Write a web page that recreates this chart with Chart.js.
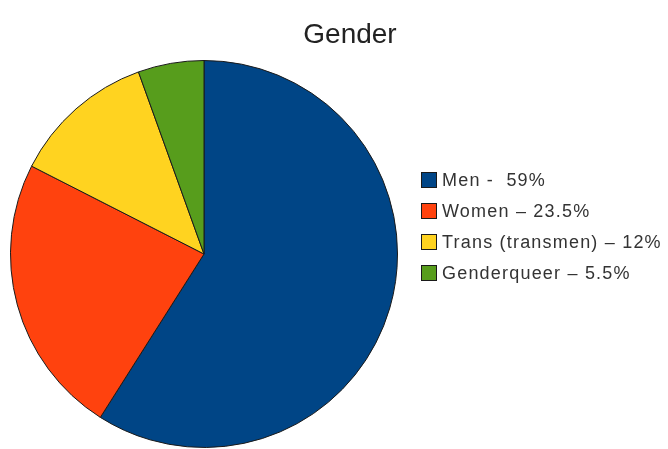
<!DOCTYPE html>
<html>
<head>
<meta charset="utf-8">
<script src="https://cdn.jsdelivr.net/npm/chart.js@4.4.0/dist/chart.umd.min.js"></script>
<style>
  html, body { margin: 0; padding: 0; background: #fff; overflow: hidden; }
  #wrap { position: relative; width: 668px; height: 449px; overflow: hidden; }
</style>
</head>
<body>
<div id="wrap">
  <canvas id="genderChart" width="668" height="470"></canvas>
</div>
<script>
const chartTitle = 'Gender';
const categories = ['Men', 'Women', 'Trans (transmen)', 'Genderqueer'];
const legendTexts = ['Men -  59%', 'Women \u2013 23.5%', 'Trans (transmen) \u2013 12%', 'Genderqueer \u2013 5.5%'];
const shares = [59, 23.5, 12, 5.5];
const colors = ['#004586', '#ff420e', '#ffd320', '#579d1c'];

// title + legend drawn by hand so they sit where the original has them
const sideLegend = {
    id: 'sideLegend',
    afterDraw(chart) {
        const ctx = chart.ctx;
        ctx.save();
        ctx.fillStyle = '#222';
        ctx.font = '28px "Liberation Sans", Arial, sans-serif';
        ctx.textAlign = 'center';
        ctx.textBaseline = 'alphabetic';
        ctx.fillText(chartTitle, 350, 43);

        ctx.font = '18px "Liberation Sans", Arial, sans-serif';
        ctx.textAlign = 'left';
        ctx.textBaseline = 'middle';
        if ('letterSpacing' in ctx) ctx.letterSpacing = '1.2px';
        const bg = chart.data.datasets[0].backgroundColor;
        legendTexts.forEach(function (txt, i) {
            const cy = 180 + i * 31;
            ctx.fillStyle = bg[i];
            ctx.fillRect(421, cy - 8, 16, 16);
            ctx.strokeStyle = '#1a1a1a';
            ctx.lineWidth = 1;
            ctx.strokeRect(421.5, cy - 7.5, 15, 15);
            ctx.fillStyle = '#333';
            ctx.fillText(txt, 442, cy + 1);
        });
        ctx.restore();
    }
};

new Chart(document.getElementById('genderChart').getContext('2d'), {
    type: 'pie',
    data: {
        labels: categories,
        datasets: [{
            data: shares,
            backgroundColor: colors,
            borderColor: '#1a1a1a',
            borderWidth: 1
        }]
    },
    options: {
        responsive: false,
        animation: false,
        events: [],
        devicePixelRatio: 1,
        layout: {
            padding: { left: 10, right: 270, top: 60, bottom: 22 }
        },
        plugins: {
            legend: { display: false },
            title: { display: false },
            tooltip: { enabled: false }
        }
    },
    plugins: [sideLegend]
});
</script>
</body>
</html>
